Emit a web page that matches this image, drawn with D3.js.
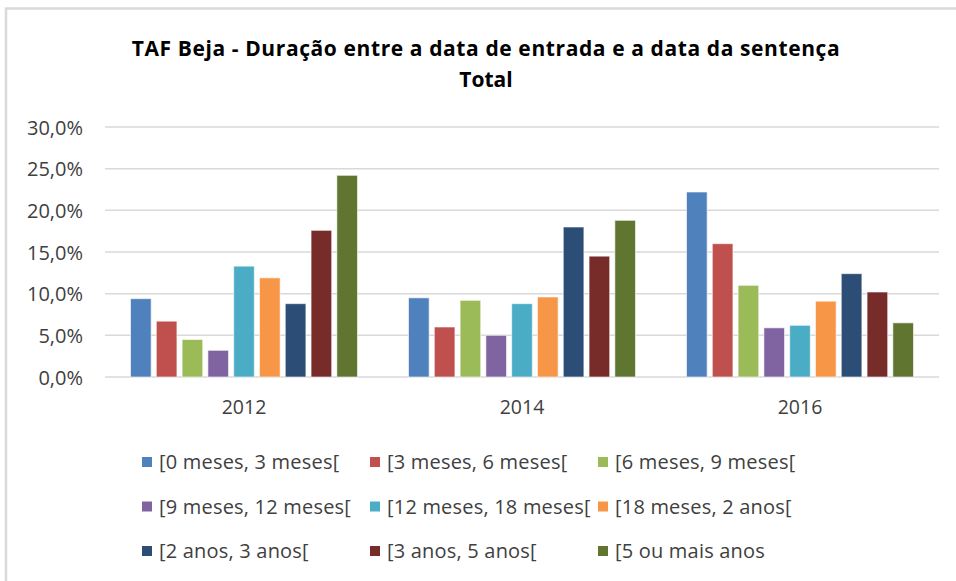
<!DOCTYPE html>
<html>
<head>
<meta charset="utf-8">
<script src="https://cdn.jsdelivr.net/npm/d3@7"></script>
<style>
  body { margin: 0; background: #fff; }
  text { font-family: "Open Sans", "Liberation Sans", sans-serif; fill: #404040; }
</style>
</head>
<body>
<div id="chart"></div>
<script>
var years = ["2012", "2014", "2016"];
var series = ["[0 meses, 3 meses[", "[3 meses, 6 meses[", "[6 meses, 9 meses[",
    "[9 meses, 12 meses[", "[12 meses, 18 meses[", "[18 meses, 2 anos[",
    "[2 anos, 3 anos[", "[3 anos, 5 anos[", "[5 ou mais anos"];
var colors = ["#4f81bd", "#c0504d", "#9bbb59", "#8064a2", "#4bacc6", "#f79646",
    "#2c4d75", "#772c2a", "#5f7530"];
// percentages, one array per year, in series order
var v2012 = [9.4, 6.7, 4.5, 3.2, 13.3, 11.9, 8.8, 17.6, 24.2];
var v2014 = [9.5, 6.0, 9.2, 5.0, 8.8, 9.6, 18.0, 14.5, 18.8];
var v2016 = [22.2, 16.0, 11.0, 5.9, 6.2, 9.1, 12.4, 10.2, 6.5];
var yTicks = [0, 5, 10, 15, 20, 25, 30];

var values = [v2012, v2014, v2016];
var width = 956, height = 581;

var svg = d3.select("#chart").append("svg")
    .attr("width", width)
    .attr("height", height);

// chart frame (only top and left edges visible)
svg.append("path")
    .attr("d", "M6,581V8.5H956")
    .attr("fill", "none")
    .attr("stroke", "#d9d9d9")
    .attr("stroke-width", 2.5);

svg.append("text")
    .attr("x", 486).attr("y", 56)
    .attr("text-anchor", "middle")
    .style("font-size", "21px").style("font-weight", "bold").style("fill", "#000")
    .style("letter-spacing", "0.6px")
    .text("TAF Beja - Duração entre a data de entrada e a data da sentença");
svg.append("text")
    .attr("x", 486).attr("y", 87)
    .attr("text-anchor", "middle")
    .style("font-size", "21px").style("font-weight", "bold").style("fill", "#000")
    .text("Total");

var x0 = d3.scaleBand()
    .domain(years)
    .range([105, 939])
    .paddingInner(0.165)
    .paddingOuter(0.0825);

var x1 = d3.scaleBand()
    .domain(series)
    .range([0, x0.bandwidth()])
    .paddingInner(0.2)
    .paddingOuter(0.1);

var y = d3.scaleLinear()
    .domain([0, 30])
    .range([377, 127]);

svg.append("g").selectAll("line")
    .data(yTicks)
    .enter().append("line")
    .attr("x1", 105).attr("x2", 939)
    .attr("y1", function (d) { return y(d); })
    .attr("y2", function (d) { return y(d); })
    .attr("stroke", "#d9d9d9")
    .attr("stroke-width", 1.5);

svg.append("g").selectAll("text")
    .data(yTicks)
    .enter().append("text")
    .attr("x", 83)
    .attr("y", function (d) { return y(d) + 7.5; })
    .attr("text-anchor", "end")
    .style("font-size", "20px")
    .text(function (d) { return d.toFixed(1).replace(".", ",") + "%"; });

var groups = svg.append("g").selectAll("g")
    .data(years)
    .enter().append("g")
    .attr("transform", function (d) { return "translate(" + x0(d) + ",0)"; });

groups.selectAll("rect")
    .data(function (d, i) {
        return values[i].map(function (v, j) { return { s: series[j], v: v, c: colors[j] }; });
    })
    .enter().append("rect")
    .attr("x", function (d) { return x1(d.s); })
    .attr("width", x1.bandwidth())
    .attr("y", function (d) { return y(d.v); })
    .attr("height", function (d) { return y(0) - y(d.v); })
    .attr("fill", function (d) { return d.c; })
    .attr("stroke", "#fff")
    .attr("stroke-opacity", 0.6)
    .attr("stroke-width", 1);

svg.append("g").selectAll("text")
    .data(years)
    .enter().append("text")
    .attr("x", function (d) { return x0(d) + x0.bandwidth() / 2; })
    .attr("y", 414)
    .attr("text-anchor", "middle")
    .style("font-size", "19.5px")
    .text(function (d) { return d; });

var legend = svg.append("g").selectAll("g")
    .data(series)
    .enter().append("g")
    .attr("transform", function (d, i) {
        return "translate(" + (142 + (i % 3) * 228) + "," + (457 + Math.floor(i / 3) * 44.5) + ")";
    });

legend.append("rect")
    .attr("width", 10).attr("height", 10)
    .attr("fill", function (d, i) { return colors[i]; });

legend.append("text")
    .attr("x", 17).attr("y", 12)
    .style("font-size", "20px")
    .style("letter-spacing", "0.2px")
    .text(function (d) { return d; });
</script>
</body>
</html>
